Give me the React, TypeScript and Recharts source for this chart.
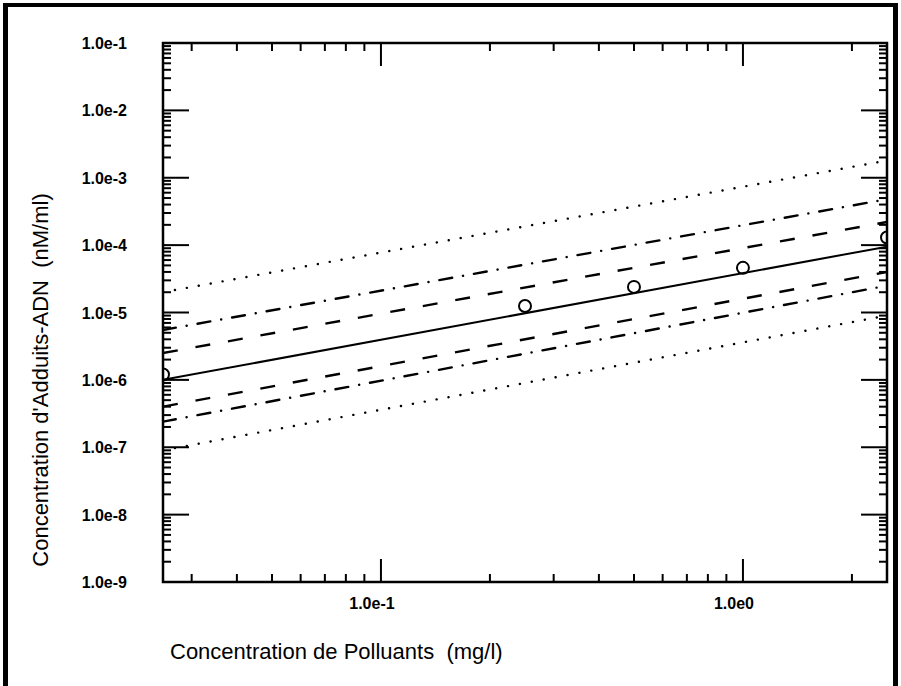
import React from 'react';
import { ComposedChart, Line, Scatter, XAxis, YAxis, ReferenceArea } from 'recharts';

// regression line ends (x = 0.025 and 2.5) and the confidence bands around it
const xEnds = [0.025, 2.5];
const upperDotted = [2e-5, 1.8e-3];
const upperDashDot = [5.5e-6, 4.8e-4];
const upperDashed = [2.5e-6, 2.2e-4];
const fitLine = [1e-6, 9.5e-5];
const lowerDashed = [4e-7, 4e-5];
const lowerDashDot = [2.4e-7, 2.5e-5];
const lowerDotted = [9e-8, 9e-6];

// measured points
const obsX = [0.025, 0.25, 0.5, 1.0, 2.5];
const obsY = [1.2e-6, 1.25e-5, 2.4e-5, 4.6e-5, 1.3e-4];

const xMajorTicks = [0.1, 1];
const xMinorTicks = [0.03, 0.04, 0.05, 0.06, 0.07, 0.08, 0.09, 0.2, 0.3, 0.4, 0.5, 0.6, 0.7, 0.8, 0.9, 2];
const yMajorTicks = [1e-9, 1e-8, 1e-7, 1e-6, 1e-5, 1e-4, 1e-3, 1e-2, 1e-1];
const yMinorSteps = [2, 3, 4, 5, 6, 7, 8, 9];

const W = 901;
const H = 686;
const M = { top: 43, right: 14, bottom: 103, left: 162 };
const PW = W - M.left - M.right - 1;
const PH = H - M.top - M.bottom - 1;
const FONT = '"Liberation Sans", Arial, Helvetica, sans-serif';

const toLine = (ys: number[]) => xEnds.map((x, i) => ({ x, y: ys[i] }));
const obs = obsX.map((x, i) => ({ x, y: obsY[i] }));

const yMinorTicks = yMajorTicks.slice(0, -1).flatMap((d) => yMinorSteps.map((s) => +(d * s).toPrecision(3)));
const xTicks = [...xMinorTicks, ...xMajorTicks];
const yTicks = [...yMinorTicks, ...yMajorTicks];

const fmt = (v: number) => v.toExponential(1).replace('e+', 'e');

const XTick = (props: any) => {
  const { x, y, payload } = props;
  const major = xMajorTicks.includes(payload.value);
  const len = major ? 23 : 8;
  return (
    <g>
      <line x1={x} y1={y} x2={x} y2={y - len} stroke="#000" strokeWidth={2} />
      <line x1={x} y1={y - PH} x2={x} y2={y - PH + len} stroke="#000" strokeWidth={2} />
      {major && (
        <text x={x - 9} y={y + 27} textAnchor="middle" fontFamily={FONT} fontWeight="bold" fontSize={16} fill="#000">
          {fmt(payload.value)}
        </text>
      )}
    </g>
  );
};

const YTick = (props: any) => {
  const { x, y, payload } = props;
  const major = yMajorTicks.includes(payload.value);
  const len = major ? 26 : 8;
  return (
    <g>
      <line x1={x} y1={y} x2={x + len} y2={y} stroke="#000" strokeWidth={2} />
      <line x1={x + PW} y1={y} x2={x + PW - len} y2={y} stroke="#000" strokeWidth={2} />
      {major && (
        <text x={x - 36} y={y + 6} textAnchor="end" fontFamily={FONT} fontWeight="bold" fontSize={16} fill="#000">
          {fmt(payload.value)}
        </text>
      )}
    </g>
  );
};

const OpenCircle = (props: any) => (
  <circle cx={props.cx} cy={props.cy} r={6} fill="none" stroke="#000" strokeWidth={2} />
);

export default function App() {
  const lineProps = { dataKey: 'y', stroke: '#000', dot: false, isAnimationActive: false, strokeWidth: 2.4 };
  return (
    <div style={{ position: 'fixed', left: 0, top: 0, width: W, height: H, background: '#fff' }}>
      <div
        style={{
          position: 'absolute',
          left: 3,
          top: 3,
          width: W - 6 - 10,
          height: H,
          borderLeft: '5px solid #000',
          borderTop: '4px solid #000',
          borderRight: '5px solid #000',
        }}
      />
      <div style={{ position: 'absolute', left: 0, top: 0 }}>
        <ComposedChart width={W} height={H} margin={M}>
          <XAxis
            dataKey="x"
            type="number"
            scale="log"
            domain={[0.025, 2.5]}
            allowDataOverflow
            ticks={xTicks}
            interval={0}
            tickSize={0}
            tickMargin={0}
            height={1}
            axisLine={false}
            tickLine={false}
            tick={(p: any) => <XTick {...p} />}
          />
          <YAxis
            dataKey="y"
            type="number"
            scale="log"
            domain={[1e-9, 1e-1]}
            allowDataOverflow
            ticks={yTicks}
            interval={0}
            tickSize={0}
            tickMargin={0}
            width={1}
            axisLine={false}
            tickLine={false}
            tick={(p: any) => <YTick {...p} />}
          />
          <ReferenceArea x1={0.025} x2={2.5} y1={1e-9} y2={1e-1} fill="none" stroke="#000" strokeWidth={2.5} />
          <Line data={toLine(upperDotted)} {...lineProps} strokeDasharray="0.1 12" strokeLinecap="round" />
          <Line data={toLine(upperDashDot)} {...lineProps} strokeDasharray="13 11 0.1 11" strokeLinecap="round" />
          <Line data={toLine(upperDashed)} {...lineProps} strokeDasharray="15 18" />
          <Line data={toLine(fitLine)} {...lineProps} strokeWidth={2} />
          <Line data={toLine(lowerDashed)} {...lineProps} strokeDasharray="15 18" />
          <Line data={toLine(lowerDashDot)} {...lineProps} strokeDasharray="13 11 0.1 11" strokeLinecap="round" />
          <Line data={toLine(lowerDotted)} {...lineProps} strokeDasharray="0.1 12" strokeLinecap="round" />
          <Scatter data={obs} dataKey="y" shape={<OpenCircle />} isAnimationActive={false} />
        </ComposedChart>
      </div>
      <svg width={W} height={H} style={{ position: 'absolute', left: 0, top: 0, pointerEvents: 'none' }}>
        <text x={170} y={659} fontFamily={FONT} fontSize={22} fill="#000" xmlSpace="preserve">
          Concentration de Polluants  (mg/l)
        </text>
        <text
          transform="translate(48, 380) rotate(-90)"
          textAnchor="middle"
          fontFamily={FONT}
          fontSize={22}
          fill="#000"
          xmlSpace="preserve"
        >
          Concentration d'Adduits-ADN  (nM/ml)
        </text>
      </svg>
    </div>
  );
}
